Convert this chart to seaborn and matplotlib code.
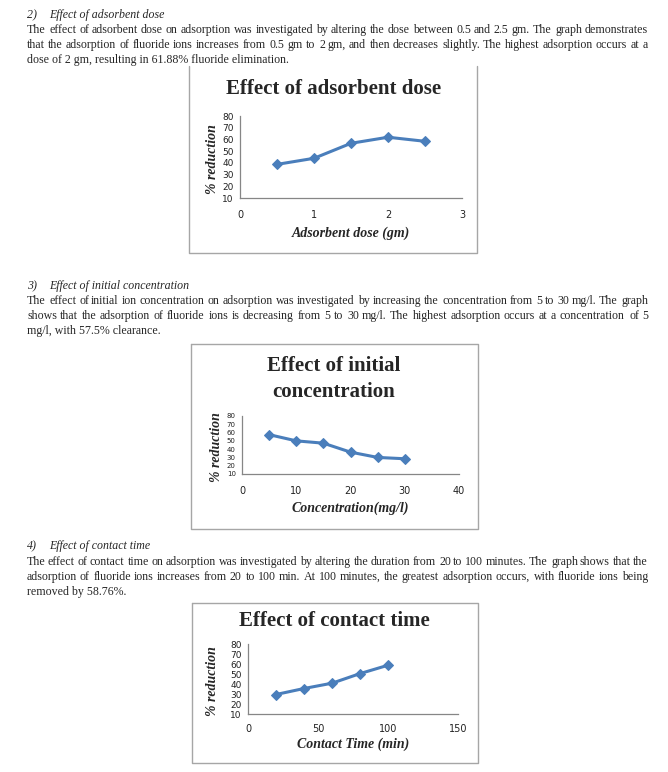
# Fluoride adsorption study - three small line charts with the report text around them
import seaborn as sns
import matplotlib.pyplot as plt

sns.set_style("white")
plt.rcParams['font.family'] = ['Liberation Serif', 'DejaVu Serif']

# ---- data ----
dose_gm = [0.5, 1.0, 1.5, 2.0, 2.5]
dose_reduction = [38.7, 43.9, 56.7, 61.88, 58.4]

conc_mgl = [5, 10, 15, 20, 25, 30]
conc_reduction = [57.5, 50.0, 47.2, 36.4, 30.0, 28.4]

time_min = [20, 40, 60, 80, 100]
time_reduction = [29.5, 35.5, 40.8, 50.4, 58.76]

y_ticks = [10, 20, 30, 40, 50, 60, 70, 80]
dose_ticks = [0, 1, 2, 3]
conc_ticks = [0, 10, 20, 30, 40]
time_ticks = [0, 50, 100, 150]

# ---- report text ----
sec2_head = ["2)", "Effect of adsorbent dose"]
sec2_body = [
    "The effect of adsorbent dose on adsorption was investigated by altering the dose between 0.5 and 2.5 gm. The graph demonstrates",
    "that the adsorption of fluoride ions increases from 0.5 gm to 2 gm, and then decreases slightly. The highest adsorption occurs at a",
    "dose of 2 gm, resulting in 61.88% fluoride elimination.",
]
sec3_head = ["3)", "Effect of initial concentration"]
sec3_body = [
    "The effect of initial ion concentration on adsorption was investigated by increasing the concentration from 5 to 30 mg/l. The graph",
    "shows that the adsorption of fluoride ions is decreasing from 5 to 30 mg/l. The highest adsorption occurs at a concentration of 5",
    "mg/l, with 57.5% clearance.",
]
sec4_head = ["4)", "Effect of contact time"]
sec4_body = [
    "The effect of contact time on adsorption was investigated by altering the duration from 20 to 100 minutes. The graph shows that the",
    "adsorption of fluoride ions increases from 20 to 100 min. At 100 minutes, the greatest adsorption occurs, with fluoride ions being",
    "removed by 58.76%.",
]

W, H = 668, 772
fig = plt.figure(figsize=(W / 100, H / 100), dpi=100)
renderer = fig.canvas.get_renderer()

BODY_SIZE = 8.6
LEFT, RIGHT = 27, 648


def ftext(x, y, s, **kw):
    return fig.text(x / W, 1 - y / H, s, **kw)


def heading(parts, y):
    ftext(LEFT, y, parts[0], fontsize=BODY_SIZE, style='italic', va='baseline')
    ftext(49, y, parts[1], fontsize=BODY_SIZE, style='italic', va='baseline')


def paragraph(lines, y0, step=15.2):
    # justified block, last line left aligned
    for i, line in enumerate(lines):
        y = round(y0 + i * step)
        if i == len(lines) - 1:
            ftext(LEFT, y, line, fontsize=BODY_SIZE, va='baseline')
            continue
        words = line.split()
        items = [ftext(0, y, w, fontsize=BODY_SIZE, va='baseline') for w in words]
        widths = [t.get_window_extent(renderer).width for t in items]
        gap = (RIGHT - LEFT - sum(widths)) / (len(words) - 1)
        x = LEFT
        for t, w in zip(items, widths):
            t.set_x(round(x) / W)
            x += w + gap


heading(sec2_head, 18)
paragraph(sec2_body, 33)
heading(sec3_head, 289)
paragraph(sec3_body, 304)
heading(sec4_head, 549)
paragraph(sec4_body, 565)

# ---- chart frames ----
frame_color = '#a6a6a6'


def frame(l, t, r, b, top=True):
    xs = [l, l, r, r] if not top else [l, l, r, r, l]
    ys = [t, b, b, t] if not top else [t, b, b, t, t]
    fig.add_artist(plt.Line2D([x / W for x in xs], [1 - y / H for y in ys],
                              color=frame_color, lw=1.0))


frame(189, 66, 477, 253, top=False)
frame(191, 344, 478, 529)
frame(192, 603, 478, 763)

line_color = '#4a7ebb'
spine_color = '#868686'


def chart(box, x, y, xticks, title, title_y, xlabel, xlabel_y, ylabel_x,
          ytick_size=6.5, xpad=6):
    l, t, r, b = box
    ax = fig.add_axes([l / W, 1 - b / H, (r - l) / W, (b - t) / H])
    sns.lineplot(x=x, y=y, ax=ax, color=line_color, lw=2.2, marker='D',
                 markersize=5.5, markeredgecolor=line_color)
    ax.set_xlim(xticks[0], xticks[-1])
    ax.set_ylim(y_ticks[0], y_ticks[-1])
    ax.set_xticks(xticks)
    ax.set_yticks(y_ticks)
    ax.tick_params(axis='x', labelsize=7, length=3, color=spine_color,
                   pad=xpad, labelcolor='#222222')
    ax.tick_params(axis='y', labelsize=ytick_size, length=3, color=spine_color,
                   pad=1.5, labelcolor='#222222')
    for lab in ax.get_xticklabels() + ax.get_yticklabels():
        lab.set_family('DejaVu Sans')
    ax.spines['top'].set_visible(False)
    ax.spines['right'].set_visible(False)
    for s in ('left', 'bottom'):
        ax.spines[s].set_color(spine_color)
        ax.spines[s].set_linewidth(0.9)
    ax.set_xlabel('')
    ax.set_ylabel('')
    ax.grid(False)
    cx = (l + r) / 2
    ftext(334, title_y, title, fontsize=15, fontweight='bold',
          ha='center', va='center', linespacing=1.45)
    ftext(cx, xlabel_y, xlabel, fontsize=10, fontweight='bold',
          style='italic', ha='center', va='center')
    ftext(ylabel_x, (t + b) / 2 + 2, '% reduction', fontsize=10,
          fontweight='bold', style='italic', rotation=90,
          ha='center', va='center')
    return ax


chart((240, 116, 462, 198), dose_gm, dose_reduction, dose_ticks,
      'Effect of adsorbent dose', 89, 'Adsorbent dose (gm)', 233, 213, xpad=6)
chart((242, 416, 459, 474), conc_mgl, conc_reduction, conc_ticks,
      'Effect of initial\nconcentration', 379, 'Concentration(mg/l)', 508, 216,
      ytick_size=5, xpad=6)
chart((248, 644, 458, 714), time_min, time_reduction, time_ticks,
      'Effect of contact time', 621, 'Contact Time (min)', 744, 213, xpad=4)

fig.savefig('out.png', dpi=100, facecolor='white')
